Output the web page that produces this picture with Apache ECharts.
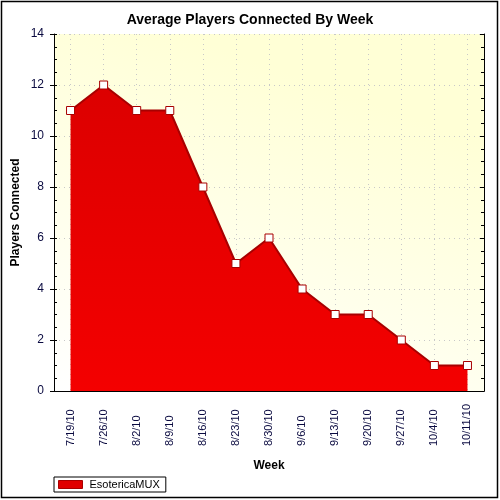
<!DOCTYPE html>
<html><head><meta charset="utf-8">
<script src="https://cdn.jsdelivr.net/npm/echarts@6/dist/echarts.min.js"></script>
<style>html,body{margin:0;padding:0;background:#fff}#c{width:500px;height:500px}</style>
</head><body><div id="c"></div>
<script>
var categories = ['7/19/10','7/26/10','8/2/10','8/9/10','8/16/10','8/23/10','8/30/10','9/6/10','9/13/10','9/20/10','9/27/10','10/4/10','10/11/10'];
var playersConnected = [11, 12, 11, 11, 8, 5, 6, 4, 3, 3, 2, 1, 1];
var seriesName = 'EsotericaMUX';

var chart = echarts.init(document.getElementById('c'));
var font = 'Arial, "Liberation Sans", sans-serif';
var labelColor = '#0a0a40';
chart.setOption({
  animation: false,
  textStyle: { fontFamily: font },
  title: {
    text: 'Average Players Connected By Week',
    left: 'center', top: 8,
    textStyle: { fontSize: 14, fontWeight: 'bold', color: '#000', fontFamily: font }
  },
  legend: {
    left: 54, bottom: 8,
    itemWidth: 24, itemHeight: 8,
    padding: [2, 6, 2, 4],
    borderColor: '#000', borderWidth: 1,
    backgroundColor: '#fff',
    textStyle: { fontSize: 11, color: '#000', fontFamily: font, padding: [0, 0, 0, 2] },
    data: [{ name: seriesName, icon: 'rect', itemStyle: { color: '#e00000', borderColor: '#a80000', borderWidth: 1 } }]
  },
  grid: {
    left: 54, right: 16, top: 34, bottom: 109,
    show: true,
    borderWidth: 0,
    backgroundColor: {
      type: 'linear', x: 0, y: 1, x2: 0.3, y2: 0,
      colorStops: [{ offset: 0, color: '#ffffff' }, { offset: 1, color: '#ffffd6' }]
    }
  },
  xAxis: [{
    type: 'category',
    data: categories,
    boundaryGap: true,
    name: 'Week',
    nameLocation: 'middle',
    nameGap: 69,
    nameMoveOverlap: false,
    nameTextStyle: { fontSize: 12, fontWeight: 'bold', color: '#000', fontFamily: font },
    axisLine: { lineStyle: { color: '#000', width: 1 } },
    axisTick: { alignWithLabel: true, length: 5, lineStyle: { color: '#000' } },
    axisLabel: { rotate: 90, interval: 0, fontSize: 11, color: labelColor, margin: 55, align: 'left', fontFamily: font },
    splitLine: { show: true, alignWithLabel: true, lineStyle: { color: '#c8c8c8', type: [1, 4] } }
  }, {
    type: 'category',
    data: categories,
    position: 'top',
    boundaryGap: true,
    axisLine: { lineStyle: { color: '#000', width: 1 } },
    axisTick: { alignWithLabel: true, inside: true, length: 5, lineStyle: { color: '#000' } },
    axisLabel: { show: false },
    splitLine: { show: false }
  }],
  yAxis: [{
    type: 'value',
    min: 0, max: 14, interval: 2,
    name: 'Players Connected',
    nameLocation: 'middle',
    nameGap: 32,
    nameMoveOverlap: false,
    nameTextStyle: { fontSize: 12, fontWeight: 'bold', color: '#000', fontFamily: font },
    axisLine: { show: true, lineStyle: { color: '#000', width: 1 } },
    axisTick: { show: true, length: 4, lineStyle: { color: '#000' } },
    axisLabel: { fontSize: 12, color: labelColor, margin: 10, fontFamily: font },
    splitLine: { show: true, lineStyle: { color: '#c8c8c8', type: [1, 4] } }
  }, {
    type: 'value',
    min: 0, max: 14, interval: 2,
    position: 'left',
    axisLine: { show: false },
    axisTick: { show: true, inside: true, length: 3, lineStyle: { color: '#000' } },
    minorTick: { show: true, splitNumber: 4, length: 3, lineStyle: { color: '#000' } },
    axisLabel: { show: false },
    splitLine: { show: false }
  }, {
    type: 'value',
    min: 0, max: 14, interval: 2,
    position: 'right',
    axisLine: { show: true, lineStyle: { color: '#000', width: 1 } },
    axisTick: { show: true, inside: true, length: 4, lineStyle: { color: '#000' } },
    minorTick: { show: true, splitNumber: 4, length: 3, lineStyle: { color: '#000' } },
    axisLabel: { show: false },
    splitLine: { show: false }
  }],
  series: [{
    name: seriesName,
    type: 'line',
    data: playersConnected,
    symbol: 'rect',
    symbolSize: 8,
    showAllSymbol: true,
    z: 3,
    lineStyle: { color: '#a80000', width: 2 },
    itemStyle: { color: '#ffffff', borderColor: '#a80000', borderWidth: 1 },
    areaStyle: {
      opacity: 1,
      color: {
        type: 'linear', x: 0, y: 0, x2: 0, y2: 1,
        colorStops: [{ offset: 0, color: '#dc0000' }, { offset: 1, color: '#f40000' }]
      }
    }
  }],
  graphic: [{
    type: 'rect',
    shape: { x: 1.5, y: 1.5, width: 496, height: 496 },
    style: { fill: null, stroke: '#000', lineWidth: 1.5 },
    silent: true, z: 100
  }]
});
</script>
</body></html>
